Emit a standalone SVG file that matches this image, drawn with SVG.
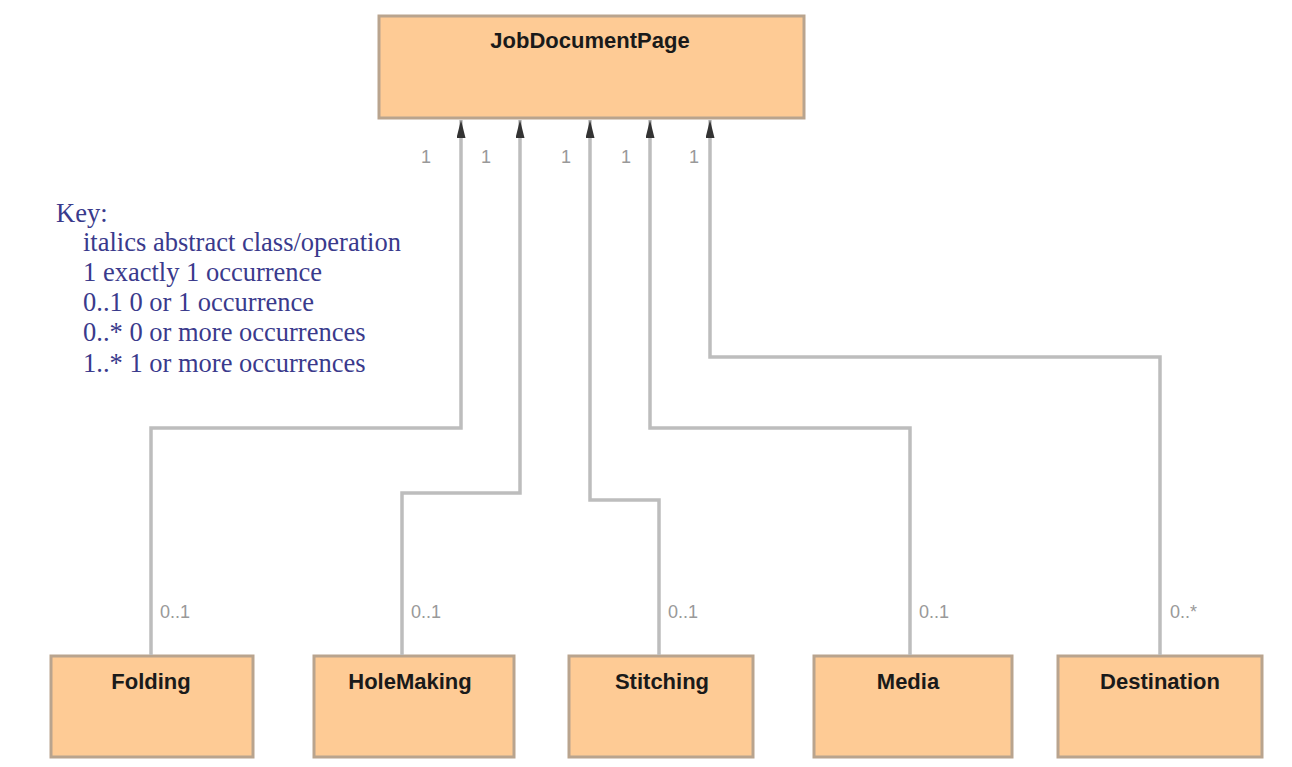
<svg xmlns="http://www.w3.org/2000/svg" width="1292" height="767" viewBox="0 0 1292 767">
<style>
.box{fill:#FECB95;stroke:#B9A48E;stroke-width:3}
.title{font-family:"Liberation Sans",Arial,sans-serif;font-weight:bold;font-size:22px;fill:#1a1a1a;text-anchor:middle}
.conn{fill:none;stroke:#BDBDBD;stroke-width:3.5}
.mult{font-family:"Liberation Sans",Arial,sans-serif;font-size:18px;fill:#999999}
.key{font-family:"Liberation Serif","Times New Roman",serif;font-size:26.5px;fill:#3a3a8c}
</style>
<defs>
<marker id="arr" viewBox="0 0 18 9" refX="18" refY="4.5" markerWidth="18" markerHeight="9" markerUnits="userSpaceOnUse" orient="auto">
<path d="M0,0 L18,4.5 L0,9 z" fill="#333333"/>
</marker>
</defs>
<rect width="1292" height="767" fill="#ffffff"/>
<g id="JobDocumentPage">
<rect class="box" x="379" y="16" width="425" height="102"/>
<text class="title" x="590" y="48">JobDocumentPage</text>
</g>
<g id="Folding">
<rect class="box" x="51" y="656" width="202" height="101"/>
<text class="title" x="151" y="689">Folding</text>
</g>
<g id="HoleMaking">
<rect class="box" x="314" y="656" width="200" height="101"/>
<text class="title" x="410" y="689">HoleMaking</text>
</g>
<g id="Stitching">
<rect class="box" x="569" y="656" width="184" height="101"/>
<text class="title" x="662" y="689">Stitching</text>
</g>
<g id="Media">
<rect class="box" x="814" y="656" width="198" height="101"/>
<text class="title" x="908" y="689">Media</text>
</g>
<g id="Destination">
<rect class="box" x="1058" y="656" width="204" height="101"/>
<text class="title" x="1160" y="689">Destination</text>
</g>
<g id="connectors">
<polyline class="conn" points="151,655 151,428 461,428 461,120" marker-end="url(#arr)"/>
<polyline class="conn" points="402,655 402,493 520,493 520,120" marker-end="url(#arr)"/>
<polyline class="conn" points="659,655 659,500 590,500 590,120" marker-end="url(#arr)"/>
<polyline class="conn" points="910,655 910,428 650,428 650,120" marker-end="url(#arr)"/>
<polyline class="conn" points="1160,655 1160,357 710,357 710,120" marker-end="url(#arr)"/>
<text class="mult" x="421" y="163">1</text>
<text class="mult" x="481" y="163">1</text>
<text class="mult" x="561" y="163">1</text>
<text class="mult" x="621" y="163">1</text>
<text class="mult" x="689" y="163">1</text>
<text class="mult" x="160" y="618">0..1</text>
<text class="mult" x="411" y="618">0..1</text>
<text class="mult" x="668" y="618">0..1</text>
<text class="mult" x="919" y="618">0..1</text>
<text class="mult" x="1170" y="618">0..*</text>
</g>
<g id="key">
<text class="key" x="56" y="222">Key:</text>
<text class="key" x="83" y="251">italics abstract class/operation</text>
<text class="key" x="83" y="281">1 exactly 1 occurrence</text>
<text class="key" x="83" y="311">0..1 0 or 1 occurrence</text>
<text class="key" x="83" y="341">0..* 0 or more occurrences</text>
<text class="key" x="83" y="372">1..* 1 or more occurrences</text>
</g>
</svg>
